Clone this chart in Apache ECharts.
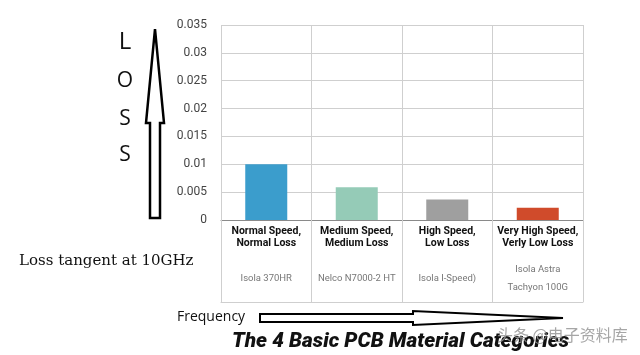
<!DOCTYPE html>
<html>
<head>
<meta charset="utf-8">
<script src="https://cdn.jsdelivr.net/npm/echarts@6/dist/echarts.min.js"></script>
<style>html,body{margin:0;padding:0;background:#fff;}#c{width:640px;height:355px;}</style>
</head>
<body>
<div id="c"></div>
<script>
const categories = ['Normal Speed,\nNormal Loss', 'Medium Speed,\nMedium Loss', 'High Speed,\nLow Loss', 'Very High Speed,\nVerly Low Loss'];
const materials = ['Isola 370HR', 'Nelco N7000-2 HT', 'Isola I-Speed)', 'Isola Astra\nTachyon 100G'];
const lossTangent = [0.01, 0.0059, 0.0037, 0.0022];
const yTicks = ['0', '0.005', '0.01', '0.015', '0.02', '0.025', '0.03', '0.035'];
const barColors = ['#3b9dcc', '#95cbb7', '#9f9f9f', '#d04b2b'];

const chart = echarts.init(document.getElementById('c'), null, {renderer: 'canvas'});
const grid = '#cfcfcf';
chart.setOption({
  animation: false,
  grid: {left: 221, right: 57, top: 25, bottom: 135, containLabel: false},
  xAxis: [{
    type: 'category', data: categories, position: 'bottom',
    axisLine: {show: true, lineStyle: {color: '#8a8a8a', width: 1}},
    axisTick: {show: true, interval: 0, length: 82, lineStyle: {color: grid}},
    splitLine: {show: true, interval: 0, lineStyle: {color: grid}},
    axisLabel: {interval: 0, margin: 5, color: '#111', fontFamily: 'Roboto', fontWeight: 'bold', fontSize: 10.5, lineHeight: 12}
  }, {
    type: 'category', data: materials, position: 'bottom', offset: 82,
    axisLine: {show: true, lineStyle: {color: grid}},
    axisTick: {show: false},
    axisLabel: {interval: 0, inside: true, margin: 23, verticalAlign: 'middle', color: '#777', fontFamily: 'Roboto', fontSize: 9.5, lineHeight: 18}
  }],
  yAxis: {
    type: 'value', min: 0, max: 0.035, interval: 0.005,
    axisLine: {show: false}, axisTick: {show: false},
    splitLine: {show: true, lineStyle: {color: grid}},
    axisLabel: {margin: 14, color: '#444', fontFamily: 'Roboto', fontSize: 12,
      formatter: (v) => yTicks[Math.round(v / 0.005)]}
  },
  series: [{
    type: 'bar', xAxisIndex: 0, barWidth: 42,
    data: lossTangent.map((v, i) => ({value: v, itemStyle: {color: barColors[i]}}))
  }],
  graphic: [
    {type: 'polygon', shape: {points: [[150,218],[150,123],[146,123],[155,29],[164,123],[160,123],[160,218]]},
     style: {fill: '#fff', stroke: '#000', lineWidth: 2.5}},
    {type: 'text', style: {text: 'L', x: 125, y: 42, align: 'center', verticalAlign: 'middle', font: '24px "Open Sans"', fill: '#111'}},
    {type: 'text', style: {text: 'O', x: 125, y: 81, align: 'center', verticalAlign: 'middle', font: '21px "Open Sans"', fill: '#111'}},
    {type: 'text', style: {text: 'S', x: 125, y: 119, align: 'center', verticalAlign: 'middle', font: '21px "Open Sans"', fill: '#111'}},
    {type: 'text', style: {text: 'S', x: 125, y: 155, align: 'center', verticalAlign: 'middle', font: '21px "Open Sans"', fill: '#111'}},
    {type: 'text', style: {text: 'Loss tangent at 10GHz', x: 19, y: 261, align: 'left', verticalAlign: 'middle', font: '15px "DejaVu Serif"', fill: '#111'}},
    {type: 'text', style: {text: 'Frequency', x: 177, y: 317, align: 'left', verticalAlign: 'middle', font: '14px "Open Sans"', fill: '#111'}},
    {type: 'polygon', shape: {points: [[260,314],[413,314],[413,311],[563,318],[413,325],[413,322],[260,322]]},
     style: {fill: '#fff', stroke: '#000', lineWidth: 2}},
    {type: 'text', style: {text: 'The 4 Basic PCB Material Categories', x: 232, y: 342, align: 'left', verticalAlign: 'middle', font: 'italic 900 20.8px Roboto', fill: '#111'}},
    {type: 'text', style: {text: '头条 @电子资料库', x: 497, y: 335, align: 'left', verticalAlign: 'middle', font: '16px "Noto Sans CJK SC"', fill: 'rgba(150,150,150,0.85)'}}
  ]
});
</script>
</body>
</html>
